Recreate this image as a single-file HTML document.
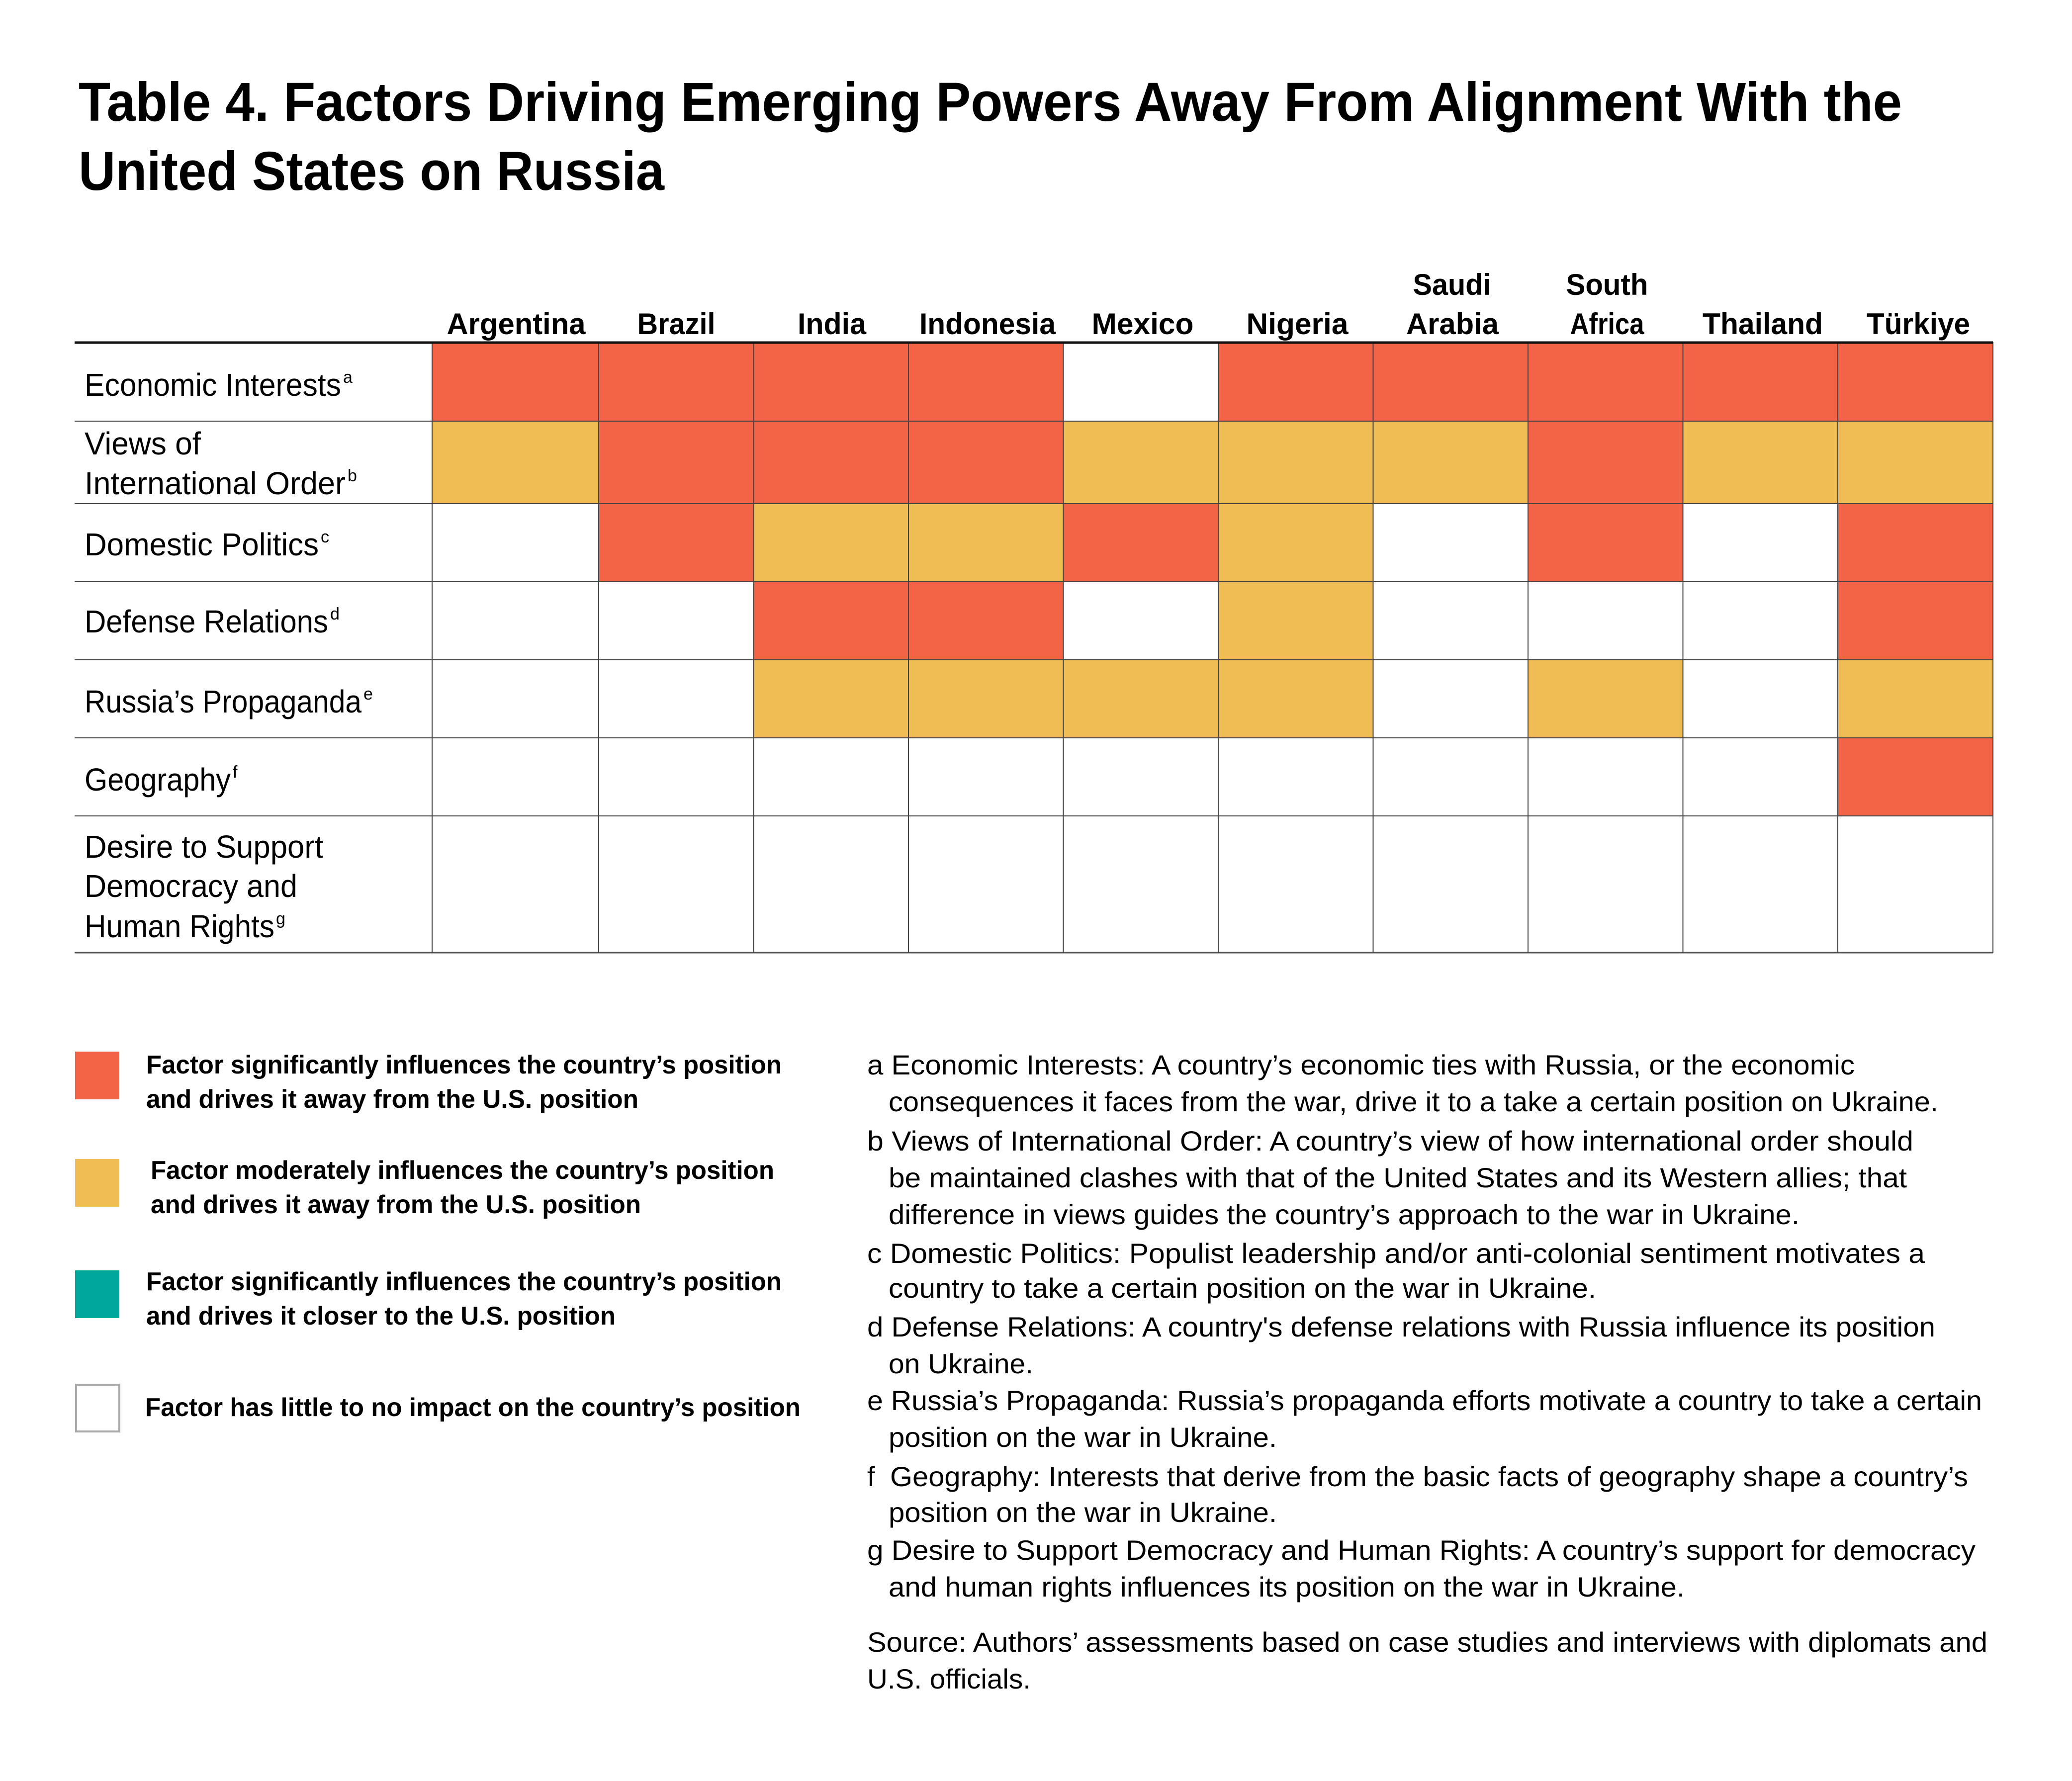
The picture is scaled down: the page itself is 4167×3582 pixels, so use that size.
<!DOCTYPE html>
<html><head><meta charset="utf-8"><style>
html,body{margin:0;padding:0;background:#fff;}
svg{display:block;}
text{font-family:"Liberation Sans",sans-serif;fill:#000;}
.b{font-weight:bold;}
</style></head><body>
<svg width="4167" height="3582" viewBox="0 0 4167 3582" xmlns="http://www.w3.org/2000/svg">
<rect width="4167" height="3582" fill="#fff"/>
<!-- Title -->
<text class="b" x="158" y="243" font-size="110" textLength="3667" lengthAdjust="spacingAndGlyphs">Table 4. Factors Driving Emerging Powers Away From Alignment With the</text>
<text class="b" x="158" y="382" font-size="110" textLength="1178" lengthAdjust="spacingAndGlyphs">United States on Russia</text>

<!-- Headers -->
<g class="b" font-size="60" text-anchor="middle">
<text x="1038" y="672" textLength="279" lengthAdjust="spacingAndGlyphs">Argentina</text>
<text x="1360" y="672" textLength="157" lengthAdjust="spacingAndGlyphs">Brazil</text>
<text x="1673" y="672" textLength="138" lengthAdjust="spacingAndGlyphs">India</text>
<text x="1986" y="672" textLength="274" lengthAdjust="spacingAndGlyphs">Indonesia</text>
<text x="2298" y="672" textLength="205" lengthAdjust="spacingAndGlyphs">Mexico</text>
<text x="2609" y="672" textLength="205" lengthAdjust="spacingAndGlyphs">Nigeria</text>
<text x="2920" y="593" textLength="157" lengthAdjust="spacingAndGlyphs">Saudi</text>
<text x="2921" y="672" textLength="186" lengthAdjust="spacingAndGlyphs">Arabia</text>
<text x="3232" y="593" textLength="165" lengthAdjust="spacingAndGlyphs">South</text>
<text x="3232" y="672" textLength="149" lengthAdjust="spacingAndGlyphs">Africa</text>
<text x="3545" y="672" textLength="242" lengthAdjust="spacingAndGlyphs">Thailand</text>
<text x="3858" y="672" textLength="208" lengthAdjust="spacingAndGlyphs">Türkiye</text>
</g>

<!-- Cells -->
<g stroke="#333" stroke-width="2">
<!-- Economic: O O O O W O O O O O -->
<rect x="869" y="689" width="335" height="158" fill="#F26445"/>
<rect x="1204" y="689" width="311.5" height="158" fill="#F26445"/>
<rect x="1515.5" y="689" width="311.5" height="158" fill="#F26445"/>
<rect x="1827" y="689" width="311.5" height="158" fill="#F26445"/>
<rect x="2450" y="689" width="311.5" height="158" fill="#F26445"/>
<rect x="2761.5" y="689" width="311.5" height="158" fill="#F26445"/>
<rect x="3073" y="689" width="311.5" height="158" fill="#F26445"/>
<rect x="3384.5" y="689" width="311.5" height="158" fill="#F26445"/>
<rect x="3696" y="689" width="312" height="158" fill="#F26445"/>
<!-- Views: Y O O O Y Y Y O Y Y -->
<rect x="869" y="847" width="335" height="166" fill="#F0BD54"/>
<rect x="1204" y="847" width="311.5" height="166" fill="#F26445"/>
<rect x="1515.5" y="847" width="311.5" height="166" fill="#F26445"/>
<rect x="1827" y="847" width="311.5" height="166" fill="#F26445"/>
<rect x="2138.5" y="847" width="311.5" height="166" fill="#F0BD54"/>
<rect x="2450" y="847" width="311.5" height="166" fill="#F0BD54"/>
<rect x="2761.5" y="847" width="311.5" height="166" fill="#F0BD54"/>
<rect x="3073" y="847" width="311.5" height="166" fill="#F26445"/>
<rect x="3384.5" y="847" width="311.5" height="166" fill="#F0BD54"/>
<rect x="3696" y="847" width="312" height="166" fill="#F0BD54"/>
<!-- Domestic: W O Y Y O Y W O W O -->
<rect x="1204" y="1013" width="311.5" height="157" fill="#F26445"/>
<rect x="1515.5" y="1013" width="311.5" height="157" fill="#F0BD54"/>
<rect x="1827" y="1013" width="311.5" height="157" fill="#F0BD54"/>
<rect x="2138.5" y="1013" width="311.5" height="157" fill="#F26445"/>
<rect x="2450" y="1013" width="311.5" height="157" fill="#F0BD54"/>
<rect x="3073" y="1013" width="311.5" height="157" fill="#F26445"/>
<rect x="3696" y="1013" width="312" height="157" fill="#F26445"/>
<!-- Defense: W W O O W Y W W W O -->
<rect x="1515.5" y="1170" width="311.5" height="157" fill="#F26445"/>
<rect x="1827" y="1170" width="311.5" height="157" fill="#F26445"/>
<rect x="2450" y="1170" width="311.5" height="157" fill="#F0BD54"/>
<rect x="3696" y="1170" width="312" height="157" fill="#F26445"/>
<!-- Russia: W W Y Y Y Y W Y W Y -->
<rect x="1515.5" y="1327" width="311.5" height="157" fill="#F0BD54"/>
<rect x="1827" y="1327" width="311.5" height="157" fill="#F0BD54"/>
<rect x="2138.5" y="1327" width="311.5" height="157" fill="#F0BD54"/>
<rect x="2450" y="1327" width="311.5" height="157" fill="#F0BD54"/>
<rect x="3073" y="1327" width="311.5" height="157" fill="#F0BD54"/>
<rect x="3696" y="1327" width="312" height="157" fill="#F0BD54"/>
<!-- Geography -->
<rect x="3696" y="1484" width="312" height="157" fill="#F26445"/>
</g>

<!-- Grid lines -->
<g stroke="#444" stroke-width="2">
<line x1="150" y1="847" x2="4008" y2="847"/>
<line x1="150" y1="1013" x2="4008" y2="1013"/>
<line x1="150" y1="1170" x2="4008" y2="1170"/>
<line x1="150" y1="1327" x2="4008" y2="1327"/>
<line x1="150" y1="1484" x2="4008" y2="1484"/>
<line x1="150" y1="1641" x2="4008" y2="1641"/>
<line x1="150" y1="1916" x2="4008" y2="1916" stroke="#555" stroke-width="3"/>
<line x1="869" y1="689" x2="869" y2="1916"/>
<line x1="1204" y1="689" x2="1204" y2="1916"/>
<line x1="1515.5" y1="689" x2="1515.5" y2="1916"/>
<line x1="1827" y1="689" x2="1827" y2="1916"/>
<line x1="2138.5" y1="689" x2="2138.5" y2="1916"/>
<line x1="2450" y1="689" x2="2450" y2="1916"/>
<line x1="2761.5" y1="689" x2="2761.5" y2="1916"/>
<line x1="3073" y1="689" x2="3073" y2="1916"/>
<line x1="3384.5" y1="689" x2="3384.5" y2="1916"/>
<line x1="3696" y1="689" x2="3696" y2="1916"/>
<line x1="4008" y1="689" x2="4008" y2="1916"/>
</g>
<line x1="150" y1="689" x2="4008" y2="689" stroke="#111" stroke-width="5"/>

<!-- Row labels -->
<g font-size="64">
<text x="170" y="796" textLength="516" lengthAdjust="spacingAndGlyphs">Economic Interests</text>
<text x="690" y="770" font-size="34">a</text>
<text x="170" y="914" textLength="234" lengthAdjust="spacingAndGlyphs">Views of</text>
<text x="170" y="994" textLength="525" lengthAdjust="spacingAndGlyphs">International Order</text>
<text x="699" y="968" font-size="34">b</text>
<text x="170" y="1117" textLength="471" lengthAdjust="spacingAndGlyphs">Domestic Politics</text>
<text x="645" y="1091" font-size="34">c</text>
<text x="170" y="1272" textLength="490" lengthAdjust="spacingAndGlyphs">Defense Relations</text>
<text x="664" y="1246" font-size="34">d</text>
<text x="170" y="1433" textLength="557" lengthAdjust="spacingAndGlyphs">Russia’s Propaganda</text>
<text x="731" y="1407" font-size="34">e</text>
<text x="170" y="1590" textLength="294" lengthAdjust="spacingAndGlyphs">Geography</text>
<text x="468" y="1564" font-size="34">f</text>
<text x="170" y="1725" textLength="480" lengthAdjust="spacingAndGlyphs">Desire to Support</text>
<text x="170" y="1804" textLength="428" lengthAdjust="spacingAndGlyphs">Democracy and</text>
<text x="170" y="1885" textLength="382" lengthAdjust="spacingAndGlyphs">Human Rights</text>
<text x="555" y="1859" font-size="34">g</text>
</g>

<!-- Legend -->
<rect x="151" y="2115" width="89" height="96" fill="#F26445"/>
<rect x="151" y="2331" width="89" height="96" fill="#F0BD54"/>
<rect x="151" y="2555" width="89" height="96" fill="#00A89C"/>
<rect x="153" y="2785" width="87" height="94" fill="#fff" stroke="#aaa" stroke-width="4"/>
<g class="b" font-size="52">
<text x="294" y="2159" textLength="1278" lengthAdjust="spacingAndGlyphs">Factor significantly influences the country’s position</text>
<text x="294" y="2228" textLength="990" lengthAdjust="spacingAndGlyphs">and drives it away from the U.S. position</text>
<text x="303" y="2371" textLength="1254" lengthAdjust="spacingAndGlyphs">Factor moderately influences the country’s position</text>
<text x="303" y="2440" textLength="986" lengthAdjust="spacingAndGlyphs">and drives it away from the U.S. position</text>
<text x="294" y="2595" textLength="1278" lengthAdjust="spacingAndGlyphs">Factor significantly influences the country’s position</text>
<text x="294" y="2664" textLength="944" lengthAdjust="spacingAndGlyphs">and drives it closer to the U.S. position</text>
<text x="292" y="2848" textLength="1318" lengthAdjust="spacingAndGlyphs">Factor has little to no impact on the country’s position</text>
</g>

<!-- Footnotes -->
<g font-size="56">
<text x="1744" y="2161" textLength="1986" lengthAdjust="spacingAndGlyphs">a Economic Interests: A country’s economic ties with Russia, or the economic</text>
<text x="1787" y="2235" textLength="2111" lengthAdjust="spacingAndGlyphs">consequences it faces from the war, drive it to a take a certain position on Ukraine.</text>
<text x="1744" y="2314" textLength="2104" lengthAdjust="spacingAndGlyphs">b Views of International Order: A country’s view of how international order should</text>
<text x="1787" y="2388" textLength="2048" lengthAdjust="spacingAndGlyphs">be maintained clashes with that of the United States and its Western allies; that</text>
<text x="1787" y="2462" textLength="1832" lengthAdjust="spacingAndGlyphs">difference in views guides the country’s approach to the war in Ukraine.</text>
<text x="1744" y="2540" textLength="2127" lengthAdjust="spacingAndGlyphs">c Domestic Politics: Populist leadership and/or anti-colonial sentiment motivates a</text>
<text x="1787" y="2610" textLength="1423" lengthAdjust="spacingAndGlyphs">country to take a certain position on the war in Ukraine.</text>
<text x="1744" y="2688" textLength="2148" lengthAdjust="spacingAndGlyphs">d Defense Relations: A country's defense relations with Russia influence its position</text>
<text x="1787" y="2762" textLength="291" lengthAdjust="spacingAndGlyphs">on Ukraine.</text>
<text x="1744" y="2836" textLength="2242" lengthAdjust="spacingAndGlyphs">e Russia’s Propaganda: Russia’s propaganda efforts motivate a country to take a certain</text>
<text x="1787" y="2910" textLength="781" lengthAdjust="spacingAndGlyphs">position on the war in Ukraine.</text>
<text x="1744" y="2989">f</text>
<text x="1790" y="2989" textLength="2168" lengthAdjust="spacingAndGlyphs">Geography: Interests that derive from the basic facts of geography shape a country’s</text>
<text x="1787" y="3061" textLength="781" lengthAdjust="spacingAndGlyphs">position on the war in Ukraine.</text>
<text x="1744" y="3137" textLength="2229" lengthAdjust="spacingAndGlyphs">g Desire to Support Democracy and Human Rights: A country’s support for democracy</text>
<text x="1787" y="3211" textLength="1601" lengthAdjust="spacingAndGlyphs">and human rights influences its position on the war in Ukraine.</text>
<text x="1744" y="3322" textLength="2253" lengthAdjust="spacingAndGlyphs">Source: Authors’ assessments based on case studies and interviews with diplomats and</text>
<text x="1744" y="3396" textLength="329" lengthAdjust="spacingAndGlyphs">U.S. officials.</text>
</g>
</svg>
</body></html>
